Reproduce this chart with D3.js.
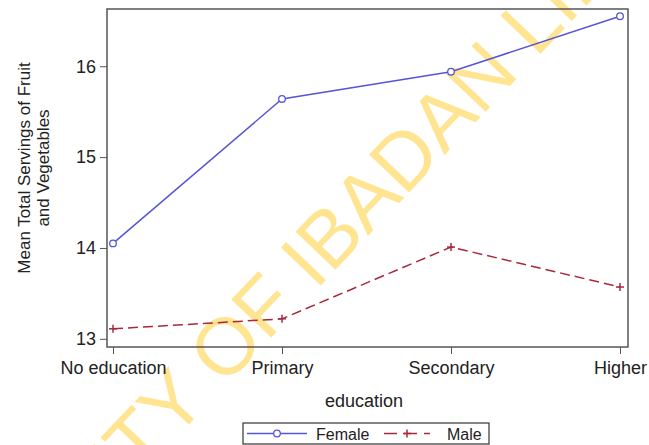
<!DOCTYPE html>
<html><head><meta charset="utf-8">
<script src="https://cdn.jsdelivr.net/npm/d3@7"></script>
<style>body{margin:0;background:#fff}svg{display:block}text{font-family:"Liberation Sans",Arial,sans-serif}</style>
</head><body>
<script>
const categories = ["No education", "Primary", "Secondary", "Higher"];
const female = [14.05, 15.64, 15.94, 16.55];
const male = [13.11, 13.22, 14.01, 13.57];
const yTicks = [13, 14, 15, 16];
const seriesNames = ["Female", "Male"];

const W = 649, H = 445;
const frame = {l: 107, r: 628, t: 9, b: 347};
const svg = d3.select("body").append("svg").attr("width", W).attr("height", H);

const x = d3.scalePoint().domain(categories).range([113, 620]);
const y = d3.scaleLinear().domain([12.91, 16.63]).range([frame.b, frame.t]);

// watermark
svg.append("text")
  .attr("transform", "translate(325,281) rotate(-46.5)")
  .attr("text-anchor", "middle")
  .attr("font-size", 80)
  .attr("fill", "#ffdf78")
  .attr("opacity", 0.8)
  .text("UNIVERSITY OF IBADAN LIBRARY");

// frame
svg.append("rect").attr("x", frame.l).attr("y", frame.t)
  .attr("width", frame.r - frame.l).attr("height", frame.b - frame.t)
  .attr("fill", "none").attr("stroke", "#555").attr("stroke-width", 1.5);

// y axis
const yAxis = d3.axisLeft(y).tickValues(yTicks).tickSize(7).tickPadding(4).tickFormat(d3.format("d"));
const ga = svg.append("g").attr("transform", `translate(${frame.l},0)`).call(yAxis);
ga.select(".domain").remove();
ga.selectAll("line").attr("stroke", "#555");
ga.selectAll("text").attr("font-size", 18).attr("fill", "#222").attr("font-family", "Liberation Sans, Arial, sans-serif");

// x axis
const xAxis = d3.axisBottom(x).tickSize(7).tickPadding(7);
const gx = svg.append("g").attr("transform", `translate(0,${frame.b})`).call(xAxis);
gx.select(".domain").remove();
gx.selectAll("line").attr("stroke", "#555");
gx.selectAll("text").attr("font-size", 18).attr("fill", "#222").attr("font-family", "Liberation Sans, Arial, sans-serif");

// axis titles
svg.append("text").attr("x", 364).attr("y", 407).attr("text-anchor", "middle")
  .attr("font-size", 18).attr("fill", "#222").text("education");
const yt = svg.append("text").attr("transform", "translate(30,168) rotate(-90)")
  .attr("text-anchor", "middle").attr("font-size", 17).attr("fill", "#222");
yt.append("tspan").attr("x", 0).attr("dy", 0).text("Mean Total Servings of Fruit");
yt.append("tspan").attr("x", 0).attr("dy", 19).text("and Vegetables");

const blue = "#5656d4", red = "#a8283c";
const line = d3.line().x((d, i) => x(categories[i])).y(d => y(d));

svg.append("path").datum(female).attr("d", line).attr("fill", "none")
  .attr("stroke", blue).attr("stroke-width", 1.5);
svg.append("path").datum(male).attr("d", line).attr("fill", "none")
  .attr("stroke", red).attr("stroke-width", 1.5).attr("stroke-dasharray", "10,5");

svg.selectAll(".fm").data(female).join("circle")
  .attr("cx", (d, i) => x(categories[i])).attr("cy", d => y(d)).attr("r", 3.3)
  .attr("fill", "#fff").attr("stroke", blue).attr("stroke-width", 1.3);

const plus = (g, cx, cy, c) => {
  g.append("line").attr("x1", cx - 4).attr("x2", cx + 4).attr("y1", cy).attr("y2", cy).attr("stroke", c).attr("stroke-width", 1.5);
  g.append("line").attr("x1", cx).attr("x2", cx).attr("y1", cy - 4).attr("y2", cy + 4).attr("stroke", c).attr("stroke-width", 1.5);
};
const gm = svg.append("g");
male.forEach((d, i) => plus(gm, x(categories[i]), y(d), red));

// legend
const lg = svg.append("g");
lg.append("rect").attr("x", 243).attr("y", 423).attr("width", 246).attr("height", 21)
  .attr("fill", "#fff").attr("stroke", "#333").attr("stroke-width", 1.2);
lg.append("line").attr("x1", 247).attr("x2", 307).attr("y1", 433.5).attr("y2", 433.5).attr("stroke", blue).attr("stroke-width", 1.5);
lg.append("circle").attr("cx", 277).attr("cy", 433.5).attr("r", 3.3).attr("fill", "#fff").attr("stroke", blue).attr("stroke-width", 1.3);
lg.append("text").attr("x", 316).attr("y", 439.5).attr("font-size", 16).attr("fill", "#222").text(seriesNames[0]);
lg.append("line").attr("x1", 384).attr("x2", 430).attr("y1", 433.5).attr("y2", 433.5).attr("stroke", red).attr("stroke-width", 1.5).attr("stroke-dasharray", "13,7");
plus(lg, 407, 433.5, red);
lg.append("text").attr("x", 447).attr("y", 439.5).attr("font-size", 16).attr("fill", "#222").text(seriesNames[1]);
</script>
</body></html>
